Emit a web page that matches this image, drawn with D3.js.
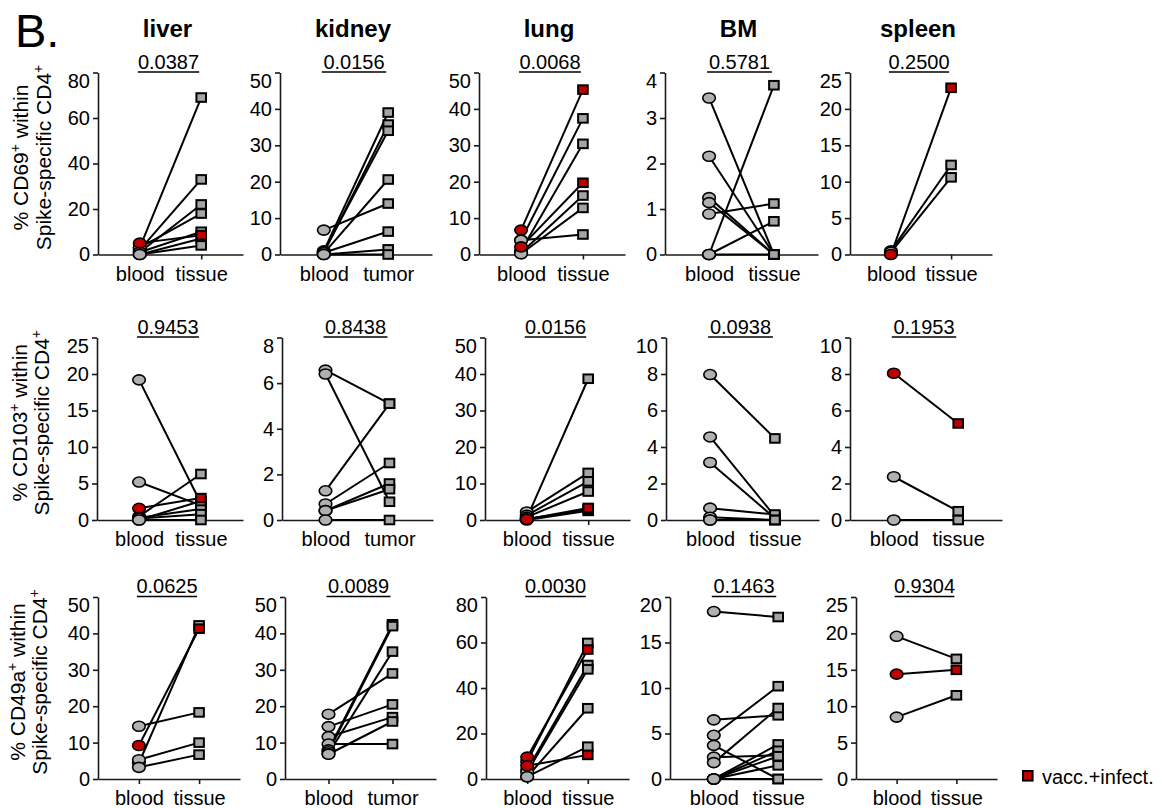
<!DOCTYPE html>
<html>
<head>
<meta charset="utf-8">
<script src="https://cdn.jsdelivr.net/npm/d3@7"></script>
<style>
body{margin:0;background:#fff}
svg{font-family:"Liberation Sans",Arial,sans-serif}
.axis path,.axis line{stroke:#1a1a1a;stroke-width:1.6px}
.axis text{font-size:20px;fill:#000;font-family:"Liberation Sans",Arial,sans-serif}
</style>
</head>
<body>
<svg id="fig" width="1162" height="808"></svg>
<script>
var organs=["liver","kidney","lung","BM","spleen"];
var markers=["CD69","CD103","CD49a"];
var sites=[["blood","tissue"],["blood","tumor"],["blood","tissue"],["blood","tissue"],["blood","tissue"]];
var pValues=[
  ["0.0387","0.0156","0.0068","0.5781","0.2500"],
  ["0.9453","0.8438","0.0156","0.0938","0.1953"],
  ["0.0625","0.0089","0.0030","0.1463","0.9304"]];
var yTicks=[
  [[0,20,40,60,80],[0,10,20,30,40,50],[0,10,20,30,40,50],[0,1,2,3,4],[0,5,10,15,20,25]],
  [[0,5,10,15,20,25],[0,2,4,6,8],[0,10,20,30,40,50],[0,2,4,6,8,10],[0,2,4,6,8,10]],
  [[0,10,20,30,40,50],[0,10,20,30,40,50],[0,20,40,60,80],[0,5,10,15,20],[0,5,10,15,20,25]]];

// paired values per organ: blood / tissue, red = index of vacc.+infect. donors
var cd69Blood=[[3,2,1,3,1,5,0,0],[1,0.5,0.8,0.3,6.7,0.5,0,0],[6.7,4,1,2.1,0.5,0.2,3.9],[3.44,2.16,1.25,1.14,0.89,0,0,0],[0,0.5,0.3]];
var cd69Tissue=[[69,33,22,18,10,8.5,7,4],[39,35.7,34,20.6,14,6.3,1.4,0],[45.3,37.4,30.4,19.7,16.2,12.8,5.5],[0,0,0,0,1.12,3.72,0.73,0],[22.9,12.3,10.6]];
var cd69Red=[[5],[],[0,3],[],[0]];

var cd103Blood=[[19.2,5.2,1.6,0.5,0.3,0,0.2,0],[6.57,6.4,1.28,0.7,0.41,0.41,0],[0.5,2.2,1.3,0.8,0.2,0,0.3],[7.97,4.55,3.15,0.65,0.15,0,0],[8.04,2.37,0]];
var cd103Tissue=[[2.3,2.0,3.0,6.3,1.5,2.6,0.8,0],[5.1,0.8,5.1,2.5,1.6,1.35,0],[38.7,12.9,10.6,7.8,3.3,2.5,2.9],[4.47,0.2,0.1,0.3,0,0,0],[5.29,0.48,0]];
var cd103Red=[[2],[],[4],[],[0]];

var cd49aBlood=[[14.5,9.2,4.4,5.3,3.2],[17.8,14.4,11.6,9.6,8,7.5,7,6.8],[9.6,5.8,7.7,4,3,1,1],[18.4,6.5,4.8,3.7,2.4,1.8,0,0,0,0,0],[19.6,14.4,8.5]];
var cd49aTissue=[[18.3,41.3,42.2,10,6.7],[29,20.5,17,9.6,42.5,42,35,15.8],[56.9,10.6,59.8,50.1,48.2,31.1,14.2],[17.8,7.0,10.2,0,2.6,7.8,3.8,3.1,1.5,2.5,0],[16.5,15,11.5]];
var cd49aRed=[[1],[],[0,1],[],[1]];

var dataSets=[[cd69Blood,cd69Tissue,cd69Red],[cd103Blood,cd103Tissue,cd103Red],[cd49aBlood,cd49aTissue,cd49aRed]];

// layout
var rowTop=[72.5,337.5,597], rowBottom=[254.5,520,779];
var colX=[[98,280,479,665,850],[97,282,485,666,850],[98,285,486,670,856]];
var colW=[[145,152,146,153,142],[146,151,145,153,152],[142,151,143,152,141]];
var yTitleX=[[28,51],[27,49],[25,47]];
var grey="#b0b0b0", greySq="#a4a4a4", red="#c00000";

var svg=d3.select("#fig");

svg.append("text").attr("x",15).attr("y",47).attr("font-size",47).text("B.");

markers.forEach(function(m,r){
  //y title
  var cy=(rowTop[r]+rowBottom[r])/2-6;
  var t1=svg.append("text").attr("transform","translate("+yTitleX[r][0]+","+cy+") rotate(-90)")
    .attr("text-anchor","middle").attr("font-size",21);
  t1.append("tspan").text("% "+m);
  t1.append("tspan").attr("dy",-8).attr("font-size",14).text("+");
  t1.append("tspan").attr("dy",8).text(" within");
  var t2=svg.append("text").attr("transform","translate("+yTitleX[r][1]+","+cy+") rotate(-90)")
    .attr("text-anchor","middle").attr("font-size",21);
  t2.append("tspan").text("Spike-specific CD4");
  t2.append("tspan").attr("dy",-8).attr("font-size",14).text("+");

  organs.forEach(function(o,c){
    var x0=colX[r][c], w=colW[r][c];
    var ticks=yTicks[r][c];
    var top=d3.max(ticks);
    var x=d3.scalePoint().domain(sites[c]).range([x0,x0+w]).padding(0.68);
    var y=d3.scaleLinear().domain([0,top]).range([rowBottom[r],rowTop[r]]);
    var g=svg.append("g");

    var ya=g.append("g").attr("class","axis").attr("transform","translate("+x0+",0)")
      .call(d3.axisLeft(y).tickValues(ticks).tickFormat(d3.format("d"))
        .tickSize(5).tickPadding(3).tickSizeOuter(0));
    ya.selectAll(".tick text").filter(function(d){return d===top;}).attr("dy","0.74em");
    g.append("g").attr("class","axis").attr("transform","translate(0,"+rowBottom[r]+")")
      .call(d3.axisBottom(x).tickSize(5).tickPadding(7).tickSizeOuter(0));

    var b=dataSets[r][0][c], t=dataSets[r][1][c], reds=dataSets[r][2][c];
    var pairs=b.map(function(v,i){return {b:v,t:t[i],red:reds.indexOf(i)>=0};});
    pairs.sort(function(a,z){return (a.red?1:0)-(z.red?1:0);});

    g.selectAll("line.pair").data(pairs).enter().append("line")
      .attr("class","pair")
      .attr("x1",x(sites[c][0])).attr("x2",x(sites[c][1]))
      .attr("y1",function(d){return y(d.b);})
      .attr("y2",function(d){return y(d.t);})
      .attr("stroke","#000").attr("stroke-width",2);

    g.selectAll("ellipse").data(pairs).enter().append("ellipse")
      .attr("cx",x(sites[c][0]))
      .attr("cy",function(d){return y(d.b);})
      .attr("rx",6.3).attr("ry",5)
      .attr("fill",function(d){return d.red?red:grey;})
      .attr("stroke","#000").attr("stroke-width",1.6);

    g.selectAll("rect.sq").data(pairs).enter().append("rect")
      .attr("class","sq")
      .attr("x",x(sites[c][1])-4.8)
      .attr("y",function(d){return y(d.t)-4.3;})
      .attr("width",9.6).attr("height",8.6)
      .attr("fill",function(d){return d.red?red:greySq;})
      .attr("stroke","#000").attr("stroke-width",2);

    // p value
    var px1=x(sites[c][0])-2, px2=x(sites[c][1])-2;
    g.append("line").attr("x1",px1).attr("x2",px2)
      .attr("y1",rowTop[r]-0.5).attr("y2",rowTop[r]-0.5)
      .attr("stroke","#000").attr("stroke-width",1.5);
    g.append("text").attr("x",(px1+px2)/2).attr("y",rowTop[r]-4)
      .attr("text-anchor","middle").attr("font-size",20).text(pValues[r][c]);

    if(r===0){
      svg.append("text").attr("x",(x(sites[c][0])+x(sites[c][1]))/2-3).attr("y",37)
        .attr("text-anchor","middle").attr("font-size",24).attr("font-weight","bold").text(o);
    }
  });
});

// legend
svg.append("rect").attr("x",1023).attr("y",771).attr("width",9.6).attr("height",9.6)
  .attr("fill",red).attr("stroke","#000").attr("stroke-width",2);
svg.append("text").attr("x",1042).attr("y",784).attr("font-size",20).text("vacc.+infect.");
</script>
</body>
</html>
